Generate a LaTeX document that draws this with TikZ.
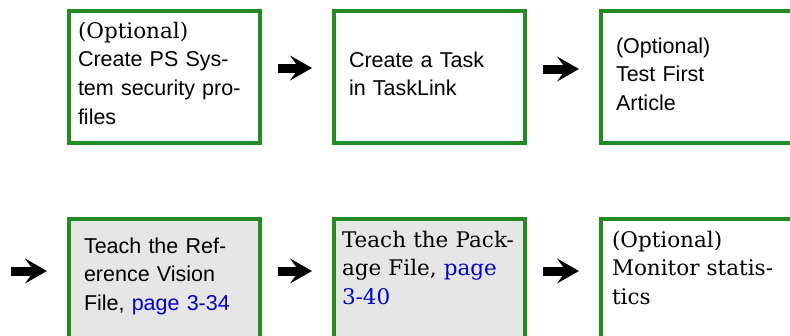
\documentclass[tikz,border=0pt]{standalone}
\usepackage{fontspec}
\setmainfont{DejaVu Serif}
\setsansfont{Liberation Sans}
\usepackage{xcolor}
\usetikzlibrary{arrows.meta,positioning}
\definecolor{StepGreen}{HTML}{228B22}
\definecolor{StepGray}{HTML}{E6E6E6}
\definecolor{LinkBlue}{HTML}{0000CC}

\begin{document}
\begin{tikzpicture}[x=1pt,y=-1pt,
  stepbox/.style={draw=StepGreen,line width=4pt,minimum width=191pt,minimum height=132pt,align=left,text height=16pt,font=\sffamily\fontsize{21.5}{28.7}\selectfont},
  serifbox/.style={stepbox,font=\rmfamily\fontsize{21.5}{28.7}\selectfont},
  flow/.style={line width=9pt,-{Stealth[length=22pt,width=25pt,inset=9pt,line width=0pt]},shorten <=16pt,shorten >=20pt}
]
\useasboundingbox (0,0) rectangle (790,335);
\clip (0,0) rectangle (790,335);
\node[stepbox,inner xsep=9pt,text width=173pt,text depth=94pt] (profiles) at (164.5,77) {{\rmfamily(Optional)}\\Create PS Sys-\\tem security pro-\\files};
\node[stepbox,right=70pt of profiles,inner xsep=15pt,text width=161pt,text depth=36pt] (task) {Create a Task\\in TaskLink};
\node[stepbox,right=72pt of task,inner xsep=15pt,text width=161pt,text depth=64pt] (article) {(Optional)\\Test First\\Article};
\node[stepbox,fill=StepGray,below=72pt of profiles,inner xsep=15pt,text width=161pt,text depth=80pt] (vision) {Teach the Ref-\\erence Vision\\File, \textcolor{LinkBlue}{page 3-34}};
\node[serifbox,fill=StepGray,below=72pt of task,inner xsep=8pt,text width=175pt,text depth=92pt] (package) {\mbox{Teach the Pack-}\\age File, \textcolor{LinkBlue}{page}\\\textcolor{LinkBlue}{3-40}};
\node[serifbox,below=72pt of article,inner xsep=11pt,text width=169pt,text depth=92pt] (stats) {(Optional)\\Monitor statis-\\tics};
\coordinate[left=72pt of vision] (wrap);
% steps in order
\draw[flow] ([yshift=9pt]profiles.east) -- ([yshift=9pt]task.west);
\draw[flow] ([yshift=8pt]task.east) -- ([yshift=8pt]article.west);
\draw[flow] ([yshift=14pt]wrap) -- ([yshift=14pt]vision.west);
\draw[flow] ([yshift=14pt]vision.east) -- ([yshift=14pt]package.west);
\draw[flow] ([yshift=14pt]package.east) -- ([yshift=14pt]stats.west);
\end{tikzpicture}
\end{document}
